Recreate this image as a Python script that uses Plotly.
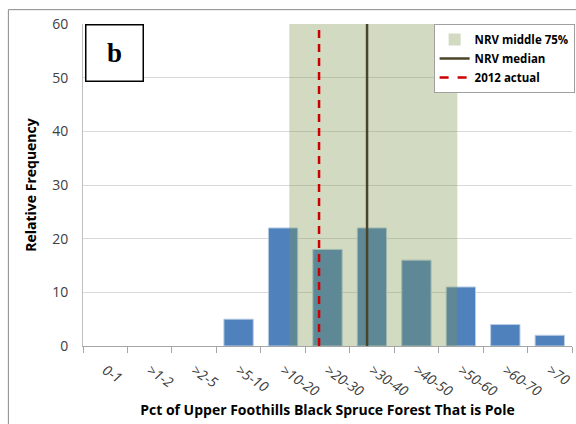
import plotly.graph_objects as go

categories = ["0-1", ">1-2", ">2-5", ">5-10", ">10-20", ">20-30", ">30-40",
              ">40-50", ">50-60", ">60-70", ">70"]
frequency = [0, 0, 0, 5, 22, 18, 22, 16, 11, 4, 2]
# positions on the category axis (index units)
nrv_range = [4.14, 7.92]
nrv_median = 5.89
actual_2012 = 4.81
y_ticks = [0, 10, 20, 30, 40, 50, 60]

shade = "rgba(124,150,73,0.34)"
median_color = "#4A452A"
actual_color = "#CC0000"
font = "Open Sans"

fig = go.Figure()
fig.add_trace(go.Bar(
    x=categories, y=frequency, width=0.66,
    marker=dict(color="#4F81BD",
                line=dict(color="#B9CDE5", width=[0 if v == 0 else 1 for v in frequency])),
    showlegend=False, hoverinfo="x+y"))
# legend proxies
fig.add_trace(go.Bar(x=[categories[0]], y=[0], name="NRV middle 75%",
                     marker=dict(color=shade, line=dict(width=0))))
fig.add_trace(go.Scatter(x=[categories[0]], y=[None], mode="lines",
                         name="NRV median",
                         line=dict(color=median_color, width=2.5)))
fig.add_trace(go.Scatter(x=[categories[0]], y=[None], mode="lines",
                         name="2012 actual",
                         line=dict(color=actual_color, width=2.5, dash="dash")))

fig.add_shape(type="rect", xref="x", yref="y", x0=nrv_range[0], x1=nrv_range[1],
              y0=0, y1=60, fillcolor=shade, line=dict(width=0), layer="above")
fig.add_shape(type="line", xref="x", yref="y", x0=nrv_median, x1=nrv_median,
              y0=0, y1=60, line=dict(color=median_color, width=2.5), layer="above")
fig.add_shape(type="line", xref="x", yref="y", x0=actual_2012, x1=actual_2012,
              y0=0, y1=60, line=dict(color=actual_color, width=2.5, dash="8px,6px"),
              layer="above")

# panel label
fig.add_annotation(xref="paper", yref="paper", x=0.004, y=1.0, xanchor="left",
                   yanchor="top", text="<b>b</b>", showarrow=False,
                   font=dict(family="Liberation Serif", size=27, color="black"),
                   bordercolor="black", borderwidth=1.5, bgcolor="white",
                   width=54, height=53)

# outer chart border
fig.add_shape(type="rect", xref="paper", yref="paper", x0=-0.1526, x1=1.02,
              y0=-0.3, y1=1.0445, line=dict(color="#898989", width=1),
              fillcolor="rgba(0,0,0,0)", layer="below")

fig.update_layout(
    width=576, height=424,
    margin=dict(l=83, r=4, t=24, b=78, autoexpand=False),
    paper_bgcolor="white", plot_bgcolor="white",
    barmode="overlay",
    font=dict(family=font, size=14, color="#404040"),
    legend=dict(x=0.717, y=1.0, xanchor="left", yanchor="top",
                bordercolor="#A0A0A0", borderwidth=1, bgcolor="white",
                font=dict(family=font, size=11.5, color="black", weight="bold"),
                tracegroupgap=0, itemwidth=30),
    xaxis=dict(type="category", categoryorder="array", categoryarray=categories,
               range=[-0.5, 10.5], tickson="boundaries", ticks="outside",
               ticklen=6, tickcolor="#A6A6A6", showline=True, linecolor="#A6A6A6",
               tickangle=34, showgrid=False, ticklabelstandoff=10,
               tickfont=dict(family=font, size=14, color="#404040", style="italic"),
               title=dict(text="<b>Pct of Upper Foothills Black Spruce Forest That is Pole</b>",
                          font=dict(family=font, size=14, color="black"), standoff=4)),
    yaxis=dict(range=[0, 60], tickvals=y_ticks, showgrid=True, gridcolor="#D9D9D9",
               showline=True, linecolor="#BFBFBF", zeroline=False,
               ticks="", ticklabelstandoff=11,
               tickfont=dict(family=font, size=14, color="#404040"),
               title=dict(text="<b>Relative Frequency</b>",
                          font=dict(family=font, size=14, color="black"), standoff=12)),
)

fig.write_html("out.html", config={"displayModeBar": False},
               post_script="document.body.style.margin='0';")
